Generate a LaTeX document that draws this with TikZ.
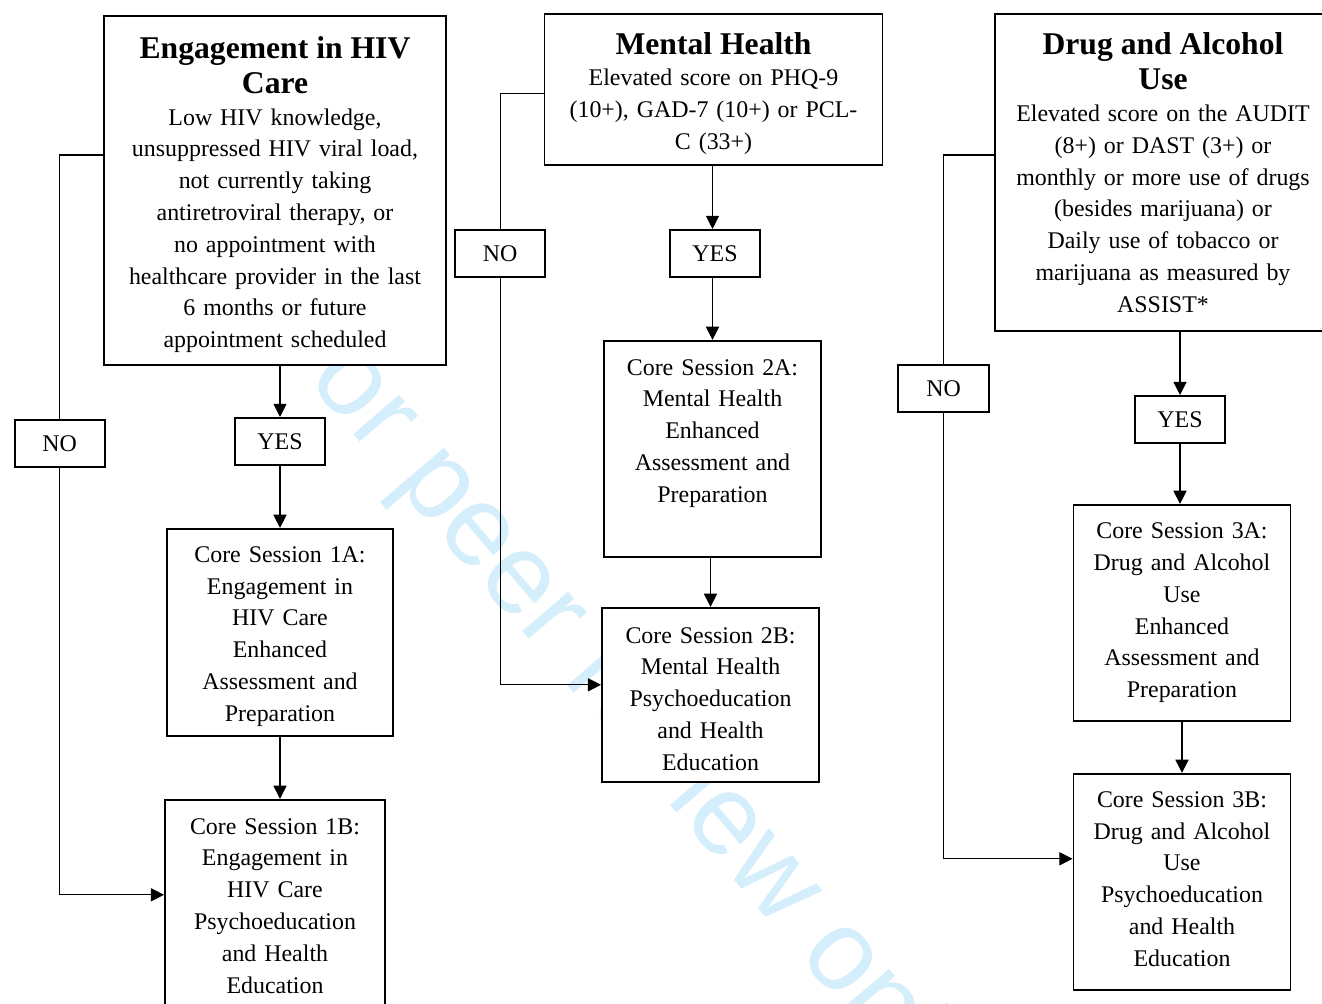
\documentclass[tikz,border=0pt]{standalone}
\usepackage{fontspec}
\setmainfont{Liberation Serif}
\newfontfamily\wmfont{Liberation Sans}
\usepackage{tikz}
\usetikzlibrary{shapes,arrows,arrows.meta,positioning,calc}
\usepackage{xcolor}
\definecolor{wmblue}{RGB}{212,238,252}
\newcommand{\boxtitle}[1]{{\fontsize{18}{20}\selectfont\bfseries\rule{0pt}{17pt}#1\par}}

\begin{document}
\begin{tikzpicture}[
    node distance=1.26cm and 2.46cm,
    topbox/.style={draw, fill=white, line width=1.1pt, rectangle, minimum width=6.76cm, text width=6.5cm, inner sep=2pt, align=center, font=\fontsize{13.6}{18.1}\selectfont},
    core/.style={draw, fill=white, line width=1.1pt, rectangle, minimum width=4.34cm, minimum height=4.32cm, text width=4.1cm, inner sep=2pt, align=center, font=\fontsize{13.6}{18.1}\selectfont},
    choice/.style={draw, fill=white, line width=1.1pt, rectangle, minimum width=1.8cm, minimum height=0.94cm, inner sep=2pt, font=\fontsize{13.6}{18.1}\selectfont},
    watermark/.style={text=wmblue, font=\wmfont\fontsize{65}{65}\selectfont, rotate=-49.5},
    line/.style={line width=0.6pt},
    arrow/.style={line width=0.6pt, -{Triangle[length=7.5pt, width=7.5pt]}}
]
    \useasboundingbox (0,0) rectangle (26.44,-20.06);
    \clip (0,0) rectangle (26.44,-20.06);

    % Watermark
    \node (wm) [watermark] at (12.40,-14.02) {For peer review only};

    % Draw nodes
    \node (hiv) [topbox, minimum height=6.98cm, minimum width=6.84cm] at (5.50,-3.81) {\boxtitle{Engagement in HIV\\Care}Low HIV knowledge,\\unsuppressed HIV viral load,\\not currently taking\\antiretroviral therapy, or\\no appointment with\\healthcare provider in the last\\6 months or future\\appointment scheduled};
    \node (mh) [topbox, minimum height=3.02cm] at (14.27,-1.79) {\boxtitle{Mental Health}Elevated score on PHQ-9\\(10+), GAD-7 (10+) or PCL-\\C (33+)};
    \node (dau) [topbox, minimum height=6.34cm, minimum width=6.72cm] at (23.26,-3.45) {\boxtitle{Drug and Alcohol\\Use}Elevated score on the AUDIT\\(8+) or DAST (3+) or\\monthly or more use of drugs\\(besides marijuana) or\\Daily use of tobacco or\\marijuana as measured by\\ASSIST*\rule[-4.5pt]{0pt}{0pt}};

    \node (yes1) [choice, below=1.02cm of hiv, xshift=0.10cm] {YES};
    \node (no1) [choice, left=2.57cm of yes1, yshift=-0.05cm] {NO};
    \node (core1a) [core, below=1.24cm of yes1, minimum width=4.52cm, minimum height=4.14cm] {\rule{0pt}{13.7pt}Core Session 1A:\\Engagement in\\HIV Care\\Enhanced\\Assessment and\\Preparation};
    \node (core1b) [core, below=1.24cm of core1a, xshift=-0.10cm, minimum width=4.40cm, minimum height=4.24cm] {Core Session 1B:\\Engagement in\\HIV Care\\Psychoeducation\\and Health\\Education};

    \node (yes2) [choice, below=of mh, xshift=0.03cm] {YES};
    \node (no2) [choice, left=of yes2] {NO};
    \node (core2a) [core, below=1.24cm of yes2, xshift=-0.05cm] {Core Session 2A:\\Mental Health\\Enhanced\\Assessment and\\Preparation\rule[-20.6pt]{0pt}{0pt}};
    \node (core2b) [core, below=0.98cm of core2a, xshift=-0.04cm, minimum height=3.48cm] {\rule{0pt}{13.7pt}Core Session 2B:\\Mental Health\\Psychoeducation\\and Health\\Education};

    \node (yes3) [choice, below=of dau, xshift=0.34cm] {YES};
    \node (no3) [choice, left=2.88cm of yes3, yshift=0.62cm, minimum width=1.82cm] {NO};
    \node (core3a) [core, below=1.20cm of yes3, xshift=0.04cm] {Core Session 3A:\\Drug and Alcohol\\Use\\Enhanced\\Assessment and\\Preparation};
    \node (core3b) [core, below=1.02cm of core3a] {Core Session 3B:\\Drug and Alcohol\\Use\\Psychoeducation\\and Health\\Education\rule[-3.4pt]{0pt}{0pt}};

    % Draw connections
    \draw [arrow] (hiv.south -| yes1) -- (yes1);
    \draw [arrow] (yes1) -- (core1a);
    \draw [arrow] (core1a) -- (core1a |- core1b.north);
    \draw [line] ([yshift=0.71cm]hiv.west) -| (no1);
    \draw [arrow] (no1) |- ([yshift=0.22cm]core1b.west);

    \draw [arrow] (mh.south -| core2a) -- (yes2.north -| core2a);
    \draw [arrow] (yes2.south -| core2a) -- (core2a);
    \draw [arrow] (core2a.south -| core2b) -- (core2b);
    \draw [line] ([yshift=-0.08cm]mh.west) -| (no2);
    \draw [arrow] (no2) |- ([yshift=0.2cm]core2b.west);

    \draw [arrow] (dau.south -| yes3) -- (yes3);
    \draw [arrow] (yes3) -- (yes3 |- core3a.north);
    \draw [arrow] (core3a) -- (core3b);
    \draw [line] ([yshift=0.35cm]dau.west) -| (no3);
    \draw [arrow] (no3) |- ([yshift=0.46cm]core3b.west);

\end{tikzpicture}
\end{document}
